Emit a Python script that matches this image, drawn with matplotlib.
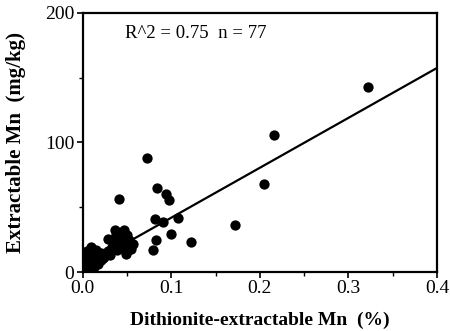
import matplotlib
matplotlib.use("Agg")
import matplotlib.pyplot as plt
from matplotlib.ticker import MultipleLocator

plt.rcParams['font.family'] = ['Liberation Serif', 'DejaVu Serif']

# Dithionite-extractable Mn (%)
x_vals = [
    0.322, 0.216, 0.205, 0.172, 0.122, 0.0727, 0.0836, 0.094, 0.0975, 0.108,
    0.0994, 0.091, 0.0814, 0.0829, 0.0798, 0.0407,
    0.0365, 0.046, 0.028, 0.040, 0.050, 0.0565, 0.049, 0.0358, 0.0433, 0.0527,
    0.019, 0.026, 0.015, 0.0094, 0.0045, 0.0075, 0.002, 0.004, 0.011, 0.017,
    0.0056, 0.000, 0.013, 0.042, 0.038, 0.047, 0.052, 0.033, 0.044, 0.039,
    0.031, 0.054, 0.036, 0.048, 0.023, 0.021, 0.012, 0.008, 0.006, 0.003,
    0.001, 0.010, 0.014, 0.016, 0.018, 0.007, 0.005, 0.002, 0.009, 0.024,
    0.029, 0.034, 0.041, 0.045, 0.051, 0.037, 0.043, 0.003, 0.006, 0.011,
    0.020,
]
# Extractable Mn (mg/kg)
y_vals = [
    143, 106, 68, 36, 23, 88, 65, 60.5, 55.5, 42,
    29.6, 38.6, 40.7, 24.5, 17.2, 56.6,
    32.7, 32.2, 25.7, 25, 28.8, 21.4, 14.2, 21.9, 19.3, 24.5,
    12.9, 14.2, 17.2, 19.3, 12.9, 6.4, 3.9, 9, 11.6, 6.4,
    2.6, 1.3, 3.9, 27, 29, 18, 20, 19, 23, 17,
    13, 18, 22, 26, 11, 15, 15, 11, 8, 6,
    4, 8, 9, 12, 10, 14, 16, 10, 5, 12,
    16, 24, 30, 22, 17, 28, 20, 1, 3, 6,
    9,
]

fit_slope = 385.0
fit_intercept = 3.5
x_range = [0.0, 0.4]
annotation = "R^2 = 0.75  n = 77"

fig = plt.figure(figsize=(4.5, 3.31), dpi=100)
ax = fig.add_axes([0.184, 0.178, 0.787, 0.783])

ax.scatter(x_vals, y_vals, s=55, color='black', zorder=3, linewidths=0)
ax.plot(x_range, [fit_intercept + fit_slope * v for v in x_range],
        color='black', lw=1.6, zorder=2)

ax.set_xlim(0, 0.4)
ax.set_ylim(0, 200)
ax.xaxis.set_minor_locator(MultipleLocator(0.05))
ax.yaxis.set_minor_locator(MultipleLocator(50))
ax.set_xticks([0, 0.1, 0.2, 0.3, 0.4])
ax.set_xticklabels(['0.0', '0.1', '0.2', '0.3', '0.4'])
ax.set_yticks([0, 100, 200])
ax.set_yticklabels(['0', '100', '200'])
ax.tick_params(axis='both', which='major', direction='out', length=4, width=1.2,
               labelsize=14, pad=2)
ax.tick_params(axis='both', which='minor', direction='out', length=3, width=1.0)
for sp in ax.spines.values():
    sp.set_linewidth(1.6)

ax.set_xlabel("Dithionite-extractable Mn  (%)", fontsize=14, fontweight='bold', labelpad=10)
ax.set_ylabel("Extractable Mn  (mg/kg)", fontsize=15, fontweight='bold', labelpad=14)

ax.text(0.118, 0.92, annotation, transform=ax.transAxes, fontsize=13.5, va='center', ha='left')

fig.savefig("out.png", dpi=100)
